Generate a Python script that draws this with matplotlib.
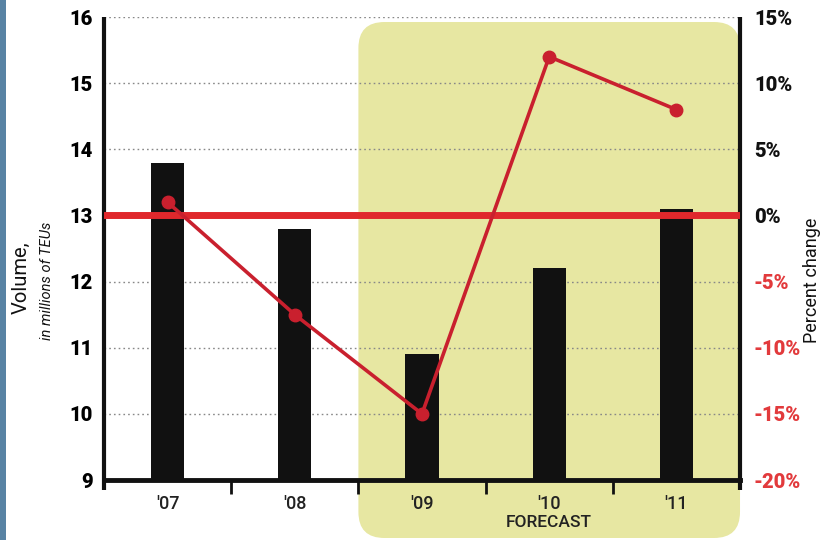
"""Container volume bars with percent-change line, forecast years shaded."""

import matplotlib

matplotlib.use("Agg")
import matplotlib.pyplot as plt
from matplotlib.patches import FancyBboxPatch, Rectangle
from matplotlib.transforms import blended_transform_factory

years = ["'07", "'08", "'09", "'10", "'11"]
volume = [13.8, 12.8, 10.9, 12.2, 13.1]          # millions of TEUs
pct_change = [1.0, -7.5, -15.0, 12.0, 8.0]       # percent
forecast_from = 2                                # '09 onward is forecast
vol_ticks = [9, 10, 11, 12, 13, 14, 15, 16]
pct_ticks = [-20, -15, -10, -5, 0, 5, 10, 15]

plt.rcParams["font.family"] = ["Roboto", "DejaVu Sans"]

BLACK = "#111111"
RED_LINE = "#c9202e"
RED_ZERO = "#e0282c"
RED_TEXT = "#e23a3c"
SHADE = "#e7e7a2"

fig = plt.figure(figsize=(8.26, 5.40), dpi=100)
ax = fig.add_axes([0.1259, 0.1111, 0.7700, 0.8574])
ax.set_facecolor("none")

n = len(years)
x = list(range(n))
ax.set_xlim(-0.5, n - 0.5)
ax.set_ylim(vol_ticks[0], vol_ticks[-1])

# grid
for v in vol_ticks[1:]:
    ax.axhline(v, color="#888888", lw=1.0, ls=(0, (1.2, 2.2)), zorder=1)

ax.bar(x, volume, width=0.26, color=BLACK, zorder=2)

ax.set_xticks(x)
ax.set_xticklabels(years, fontsize=13, fontweight="medium", color="#222222")
ax.tick_params(axis="x", length=0, pad=11)
ax.set_xticks([i + 0.5 for i in range(n - 1)], minor=True)
ax.tick_params(axis="x", which="minor", length=10, width=2, color=BLACK)

ax.set_yticks(vol_ticks)
ax.set_yticklabels([str(v) for v in vol_ticks], fontsize=14.5,
                   fontweight="black")
ax.tick_params(axis="y", length=0, pad=8)

for side in ["top", "right", "left"]:
    ax.spines[side].set_visible(False)
ax.spines["bottom"].set_linewidth(3.5)
ax.spines["bottom"].set_color(BLACK)
for xa in (0, 1):
    ax.plot([xa, xa], [-0.022, 1.0], transform=ax.transAxes, color=BLACK,
            lw=3, clip_on=False, zorder=5, solid_capstyle="butt")

# percent change on secondary axis
ax2 = ax.twinx()
ax2.set_ylim(pct_ticks[0], pct_ticks[-1])
ax2.axhline(0, color=RED_ZERO, lw=5, zorder=3)
ax2.plot(x, pct_change, color=RED_LINE, lw=2.6, marker="o", markersize=9,
         zorder=4)
ax2.set_yticks(pct_ticks)
ax2.set_yticklabels([f"{p}%" for p in pct_ticks], fontsize=14.5,
                    fontweight="black")
for lab, p in zip(ax2.get_yticklabels(), pct_ticks):
    lab.set_color(RED_TEXT if p < 0 else BLACK)
ax2.tick_params(axis="y", length=0, pad=10)
for side in ax2.spines:
    ax2.spines[side].set_visible(False)
ax2.set_facecolor("none")

# forecast shading behind the axes, rounded in inches
fig.canvas.draw()
to_in = fig.dpi_scale_trans.inverted()
x0 = to_in.transform(ax.transData.transform((forecast_from - 0.5, 0)))[0]
x1 = to_in.transform(ax.transData.transform((n - 0.5, 0)))[0]
top = to_in.transform(ax.transAxes.transform((0, 1)))[1] - 0.05
shade = FancyBboxPatch((x0, 0.02), x1 - x0, top - 0.02,
                       boxstyle="round,pad=0,rounding_size=0.26",
                       transform=fig.dpi_scale_trans, facecolor=SHADE,
                       edgecolor="none", zorder=-5)
fig.patches.append(shade)

mid = (forecast_from + n - 1) / 2
ax.text(mid, 0.033, "FORECAST", fontsize=12.5, fontweight="medium",
        ha="center", va="center", color="#222222",
        transform=blended_transform_factory(ax.transData, fig.transFigure))

# left blue strip
fig.patches.append(Rectangle((0, 0), 0.0075, 1, transform=fig.transFigure,
                             facecolor="#5883a4", edgecolor="none", zorder=-4))

# axis titles
fig.text(0.025, 0.485, "Volume,", rotation=90, fontsize=14.5, ha="center",
         va="center", color=BLACK)
fig.text(0.057, 0.48, "in millions of TEUs", rotation=90, fontsize=10.5,
         style="italic", ha="center", va="center", color=BLACK)
fig.text(0.983, 0.48, "Percent change", rotation=90, fontsize=13,
         ha="center", va="center", color=BLACK)

fig.savefig("out.png", dpi=100)
